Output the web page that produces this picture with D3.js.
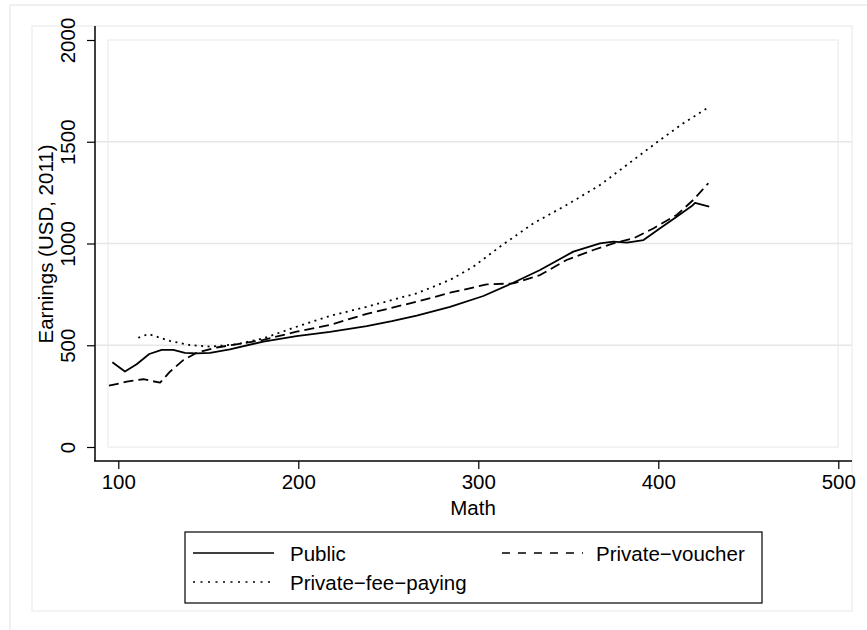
<!DOCTYPE html>
<html><head><meta charset="utf-8">
<script src="https://cdn.jsdelivr.net/npm/d3@7"></script>
<style>body{margin:0;background:#fff}svg{display:block}text{font-family:"Liberation Sans",Arial,sans-serif;fill:#000}</style>
</head><body><svg id="c" width="867" height="630"></svg>
<script>
const xTicks=[100,200,300,400,500];
const yTicks=[0,500,1000,1500,2000];
const seriesNames=["Public","Private\u2212voucher","Private\u2212fee\u2212paying"];
const publicX=[96.7,103.7,110.2,117.2,124.1,130.6,137,143.6,151,162,180.6,199,217.6,238,252,265.8,284.3,302.8,319.4,334.3,352.8,367.6,375,382.6,391.8,401,410.2,418.6,420.4,428.3];
const publicY=[416,371,407,457,477,477,463,460,463,480,518,545,566,594,618,645,689,742,807,870,960,1001,1009,1004,1017,1075,1132,1184,1200,1181];
const voucherX=[94.8,104.7,113.9,123.2,128.7,136.1,143.6,154.7,180.6,199,217.6,238,265.8,284.3,304.7,319.4,334.3,349,363.9,375,386.1,397.2,410.2,419.4,427.8];
const voucherY=[301,321,333,316,370,427,463,489,526,567,600,654,714,758,799,804,845,919,968,1001,1025,1074,1140,1214,1296];
const feeX=[111.1,116.7,120.4,128.7,139.8,151,165.8,180.6,199,217.6,238,265.8,284.3,297.2,312,330.6,349,367.6,386.1,401,413.9,427];
const feeY=[537,555,545,521,501,493,505,534,591,644,689,755,821,886,984,1099,1189,1287,1410,1509,1591,1664];

const FS=20.5;
const svg=d3.select("#c");
const x=d3.scaleLinear().domain([100,500]).range([118.3,838.3]);
const y=d3.scaleLinear().domain([0,2000]).range([447,40]);

// frames
svg.append("path").attr("d","M10,630V5H867").attr("fill","none").attr("stroke","#ececec").attr("stroke-width",1.5);
svg.append("rect").attr("x",32).attr("y",26).attr("width",820).attr("height",585).attr("fill","none").attr("stroke","#f0f0f0").attr("stroke-width",1.5);
svg.append("rect").attr("x",108).attr("y",40).attr("width",730).attr("height",407).attr("fill","none").attr("stroke","#f0f0f0").attr("stroke-width",1.5);

// gridlines
svg.append("g").selectAll("line").data(yTicks.filter(d=>d>0&&d<2000)).join("line")
  .attr("x1",95).attr("x2",852).attr("y1",d=>y(d)).attr("y2",d=>y(d))
  .attr("stroke","#e6e6e6").attr("stroke-width",1.6);

// axes
const xa=svg.append("g").attr("transform","translate(0,461)")
  .call(d3.axisBottom(x).tickValues(xTicks).tickSize(8).tickPadding(5).tickFormat(d3.format("d")));
xa.select(".domain").attr("d","M94,0H852").attr("stroke","#000").attr("stroke-width",1.5);
xa.selectAll(".tick line").attr("stroke","#000").attr("stroke-width",1.2);
xa.selectAll(".tick text").attr("font-size",FS).attr("font-family","Liberation Sans, Arial");

const ya=svg.append("g").attr("transform","translate(95,0)")
  .call(d3.axisLeft(y).tickValues(yTicks).tickSize(8).tickFormat(d3.format("d")));
ya.select(".domain").attr("d","M0,26V461").attr("stroke","#000").attr("stroke-width",1.5);
ya.selectAll(".tick line").attr("stroke","#000").attr("stroke-width",1.2);
ya.selectAll(".tick text").attr("font-size",FS).attr("font-family","Liberation Sans, Arial")
  .attr("dy",null).attr("text-anchor","middle").attr("dominant-baseline","central")
  .attr("transform","rotate(-90)").attr("x",0).attr("y",-28);

svg.append("text").attr("transform","translate(45,244) rotate(-90)").attr("text-anchor","middle")
  .attr("dominant-baseline","central").attr("font-size",FS).text("Earnings (USD, 2011)");
svg.append("text").attr("x",473).attr("y",507).attr("text-anchor","middle")
  .attr("dominant-baseline","central").attr("font-size",FS).text("Math");

// lines
const line=d3.line().x(d=>x(d[0])).y(d=>y(d[1]));
const styles=[{dash:null},{dash:"10,5"},{dash:"2,4.5"}];
const data=[d3.zip(publicX,publicY),d3.zip(voucherX,voucherY),d3.zip(feeX,feeY)];
data.forEach((d,i)=>{
  svg.append("path").datum(d).attr("d",line).attr("fill","none").attr("stroke","#000")
    .attr("stroke-width",1.8).attr("stroke-dasharray",styles[i].dash).attr("stroke-linejoin","round");
});

// legend
svg.append("rect").attr("x",185).attr("y",532).attr("width",577).attr("height",71)
  .attr("fill","#fff").attr("stroke","#000").attr("stroke-width",1.2);
const leg=[{x1:193,x2:274,tx:290,y:553,i:0},{x1:502,x2:583,tx:596,y:553,i:1},{x1:193,x2:274,tx:290,y:582,i:2}];
const legDash=[null,"8,8","2,5.5"];
leg.forEach(l=>{
  svg.append("line").attr("x1",l.x1).attr("x2",l.x2).attr("y1",l.y).attr("y2",l.y)
    .attr("stroke","#000").attr("stroke-width",1.6).attr("stroke-dasharray",legDash[l.i]);
  svg.append("text").attr("x",l.tx).attr("y",l.y).attr("dominant-baseline","central")
    .attr("font-size",FS).text(seriesNames[l.i]);
});
</script></body></html>
